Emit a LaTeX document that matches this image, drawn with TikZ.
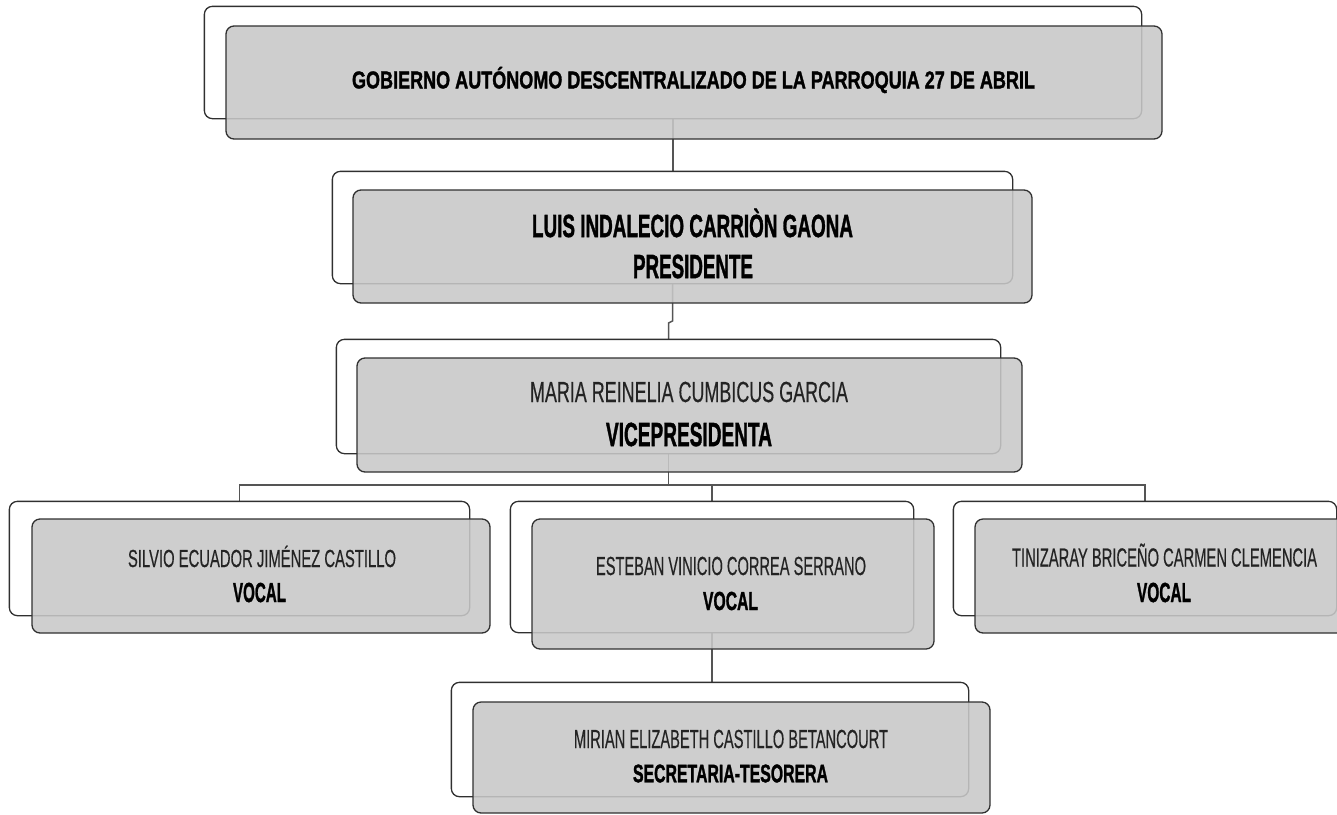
\documentclass[tikz,border=0pt]{standalone}
\usepackage{fontspec}
\setmainfont{Liberation Sans}[FakeBold=0.5, BoldFeatures={FakeBold=1.6}]
\usepackage{graphicx}
\newsavebox\capbox
\newcommand\fitt[3]{\sbox\capbox{H}\resizebox{#1pt}{#2pt}{\raisebox{0pt}[\ht\capbox][0pt]{#3}}}
\definecolor{linec}{RGB}{48,48,48}
\definecolor{connc}{RGB}{85,85,85}
\definecolor{boxgray}{RGB}{200,200,200}
\definecolor{txtc}{RGB}{35,35,35}
\tikzset{
  backbox/.style={draw=linec, line width=1.3pt, rounded corners=8pt, fill=white, inner sep=0pt},
  frontbox/.style={draw=linec, line width=1.3pt, rounded corners=8pt, fill=boxgray, fill opacity=0.88, draw opacity=1, inner sep=0pt},
  conn/.style={draw=connc, line width=1.5pt},
  txt/.style={inner sep=0pt, text=txtc},
  btxt/.style={inner sep=0pt, text=black}
}
\begin{document}
\begin{tikzpicture}[x=1pt,y=-1pt]
\useasboundingbox (0,0) rectangle (1337,814);
% ---------- connectors (drawn first, seen through the front boxes)
\coordinate (jogA) at (672.5,321);
\coordinate (jogB) at (668.5,323);
\coordinate (rowy) at (0,485);
% back box places as named nodes (outlines drawn below)
\node[backbox, draw=none, fill=none, minimum width=936pt, minimum height=111pt] (topb) at (673,62.5) {};
\node[backbox, draw=none, fill=none, minimum width=679pt, minimum height=111pt] (luisb) at (672.5,227.5) {};
\node[backbox, draw=none, fill=none, minimum width=663pt, minimum height=113pt] (vpb) at (668.5,396.5) {};
\node[backbox, draw=none, fill=none, minimum width=459pt, minimum height=113pt] (silb) at (239.5,558.5) {};
\node[backbox, draw=none, fill=none, minimum width=402pt, minimum height=130pt] (estb) at (712,567) {};
\node[backbox, draw=none, fill=none, minimum width=382pt, minimum height=113pt] (tinb) at (1145,558.5) {};
\node[backbox, draw=none, fill=none, minimum width=516pt, minimum height=113pt] (mirb) at (710,739.5) {};

\draw[conn] (topb.south) -- (topb.south |- luisb.north);
\draw[conn] (luisb.south) -- (luisb.south |- jogA) -- (vpb.north |- jogB) -- (vpb.north);
\draw[conn] (vpb.south) -- (vpb.south |- rowy);
\draw[conn] (silb.north) -- (silb.north |- rowy) -- (tinb.north |- rowy) -- (tinb.north);
\draw[conn] (estb.north) -- (estb.north |- rowy);
\draw[conn] (estb.south) -- (estb.south |- mirb.north);

% ---------- back boxes
\foreach \n in {topb,luisb,vpb,silb,estb,tinb,mirb}{
  \draw[backbox] (\n.north west) rectangle (\n.south east);
}

% ---------- front boxes
\node[frontbox, minimum width=936pt, minimum height=113pt] (topf) at (694,82.5) {};
\node[frontbox, minimum width=679pt, minimum height=113pt] (luisf) at (692.5,246.5) {};
\node[frontbox, minimum width=665pt, minimum height=114pt] (vpf) at (689.5,415) {};
\node[frontbox, minimum width=458pt, minimum height=114pt] (silf) at (261,576) {};
\node[frontbox, minimum width=402pt, minimum height=130pt] (estf) at (733,584) {};
\node[frontbox, minimum width=382pt, minimum height=114pt] (tinf) at (1166,576) {};
\node[frontbox, minimum width=517pt, minimum height=111pt] (mirf) at (731.5,757.5) {};

% ---------- texts
\node[btxt] (t1) at (693.5,80) {\fitt{683}{16.7}{\bfseries GOBIERNO AUTÓNOMO DESCENTRALIZADO DE LA PARROQUIA 27 DE ABRIL}};
\node[btxt] (t2a) at (692.5,226) {\fitt{321}{22}{\bfseries LUIS INDALECIO CARRIÒN GAONA}};
\node[btxt] (t2b) at (693,266.5) {\fitt{120}{23}{\bfseries PRESIDENTE}};
\node[txt] (t3a) at (689,392) {\fitt{318}{20}{MARIA REINELIA CUMBICUS GARCIA}};
\node[btxt] (t3b) at (689,434.5) {\fitt{166}{23}{\bfseries VICEPRESIDENTA}};
\node[txt] (t4a) at (262,558.5) {\fitt{268}{17}{SILVIO ECUADOR JIMÉNEZ CASTILLO}};
\node[btxt] (t4b) at (259.5,592.5) {\fitt{53}{19}{\bfseries VOCAL}};
\node[txt] (t5a) at (731,566) {\fitt{270}{18}{ESTEBAN VINICIO CORREA SERRANO}};
\node[btxt] (t5b) at (730.5,601) {\fitt{55}{18}{\bfseries VOCAL}};
\node[txt] (t6a) at (1164.5,557.5) {\fitt{305}{18}{TINIZARAY BRICEÑO CARMEN CLEMENCIA}};
\node[btxt] (t6b) at (1164,592.5) {\fitt{54}{19}{\bfseries VOCAL}};
\node[txt] (t7a) at (731,739) {\fitt{314}{18}{MIRIAN ELIZABETH CASTILLO BETANCOURT}};
\node[btxt] (t7b) at (730.5,773.5) {\fitt{195}{17.5}{\bfseries SECRETARIA-TESORERA}};
\end{tikzpicture}
\end{document}
